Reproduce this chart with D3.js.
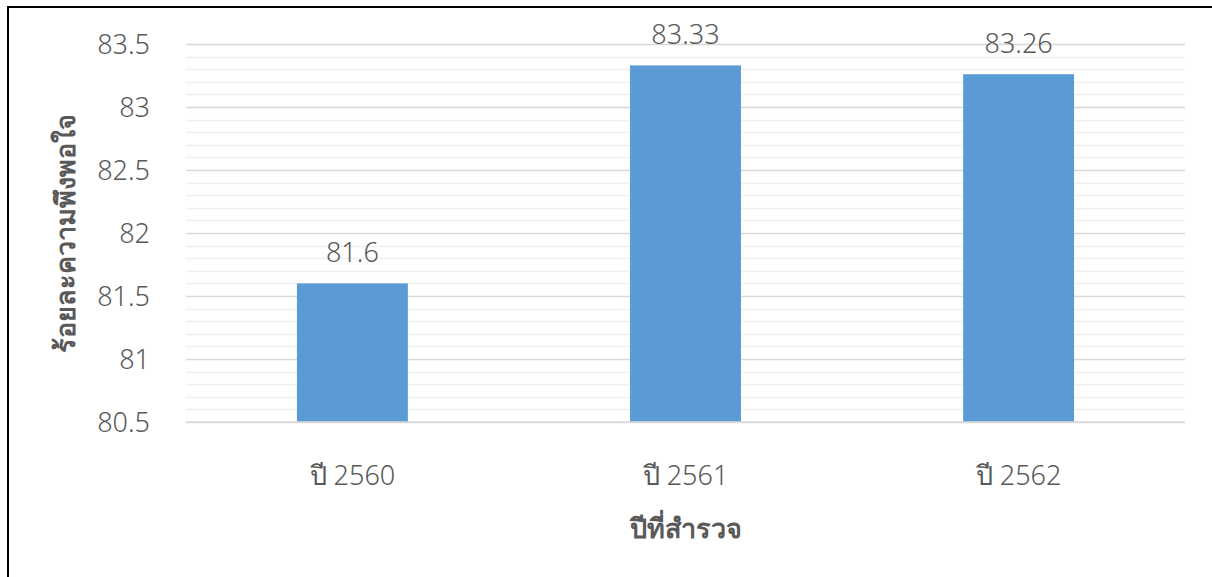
<!DOCTYPE html>
<html><head><meta charset="utf-8">
<script src="https://cdn.jsdelivr.net/npm/d3@7"></script>
<style>
html,body{margin:0;padding:0;background:#fff;}
svg{display:block;}
text{font-family:"Noto Sans","Open Sans","DejaVu Sans",sans-serif;fill:#595959;}
.lt{font-weight:300;}
</style></head>
<body>
<script>
const categories = ["ปี 2560", "ปี 2561", "ปี 2562"];
const values = [81.6, 83.33, 83.26];
const valueLabels = ["81.6", "83.33", "83.26"];
const yTicks = [80.5, 81, 81.5, 82, 82.5, 83, 83.5];
const yTickLabels = ["80.5", "81", "81.5", "82", "82.5", "83", "83.5"];
const yTitle = "ร้อยละความพึงพอใจ";
const xTitle = "ปีที่สำรวจ";

(function () {
const W = 1212, H = 577;
const svg = d3.select("body").append("svg").attr("width", W).attr("height", H);

// outer frame
svg.append("rect").attr("x", 8).attr("y", 7).attr("width", W + 10).attr("height", H + 10)
  .attr("fill", "none").attr("stroke", "#000").attr("stroke-width", 2);

const pL = 186, pR = 1185, pT = 44, pB = 422;
const x = d3.scaleBand().domain(categories).range([pL, pR]).paddingInner(0.667).paddingOuter(0.333);
const y = d3.scaleLinear().domain([80.5, 83.5]).range([pB, pT]);

// minor gridlines
const minor = d3.range(805, 836, 1).map(v => v / 10).filter(v => Math.round(v * 10) % 5 !== 0);
svg.append("g").selectAll("line").data(minor).join("line")
  .attr("x1", pL).attr("x2", pR)
  .attr("y1", d => Math.round(y(d)) + 0.5).attr("y2", d => Math.round(y(d)) + 0.5)
  .attr("stroke", "#f0f0f0").attr("stroke-width", 1.5);

// major gridlines via axis
const yAxis = d3.axisLeft(y).tickValues(yTicks).tickSize(-(pR - pL)).tickFormat((d, i) => yTickLabels[i]).tickPadding(36);
const gy = svg.append("g").attr("transform", `translate(${pL},0)`).call(yAxis);
gy.select(".domain").remove();
gy.selectAll(".tick line").attr("stroke", "#d9d9d9").attr("stroke-width", 1.5);
gy.selectAll(".tick text").attr("class", "lt").attr("font-size", 27).attr("fill", "#595959").attr("dy", "0.35em");

// bars
svg.append("g").selectAll("rect").data(values).join("rect")
  .attr("x", (d, i) => x(categories[i]))
  .attr("width", x.bandwidth())
  .attr("y", d => y(d))
  .attr("height", d => y(80.5) - y(d))
  .attr("fill", "#5b9bd5");

// baseline
svg.append("line").attr("x1", pL).attr("x2", pR).attr("y1", pB).attr("y2", pB)
  .attr("stroke", "#d9d9d9").attr("stroke-width", 1.5);

// value labels
svg.append("g").selectAll("text").data(values).join("text")
  .attr("class", "lt")
  .attr("x", (d, i) => x(categories[i]) + x.bandwidth() / 2)
  .attr("y", d => y(d) - 21)
  .attr("text-anchor", "middle").attr("font-size", 27)
  .text((d, i) => valueLabels[i]);

// x axis labels
const xAxis = d3.axisBottom(x).tickSize(0).tickPadding(0);
const gx = svg.append("g").attr("transform", `translate(0,${pB})`).call(xAxis);
gx.select(".domain").remove();
gx.selectAll(".tick text").attr("class", "lt").attr("font-size", 27).attr("fill", "#595959").attr("dy", 0).attr("y", 63);

// titles
svg.append("text").attr("x", (pL + pR) / 2).attr("y", 538).attr("text-anchor", "middle")
  .attr("font-size", 27).attr("font-weight", "bold").text(xTitle);
svg.append("text").attr("transform", `translate(75,${(pT + pB) / 2}) rotate(-90)`)
  .attr("text-anchor", "middle").attr("font-size", 27).attr("font-weight", "bold").text(yTitle);
})();
</script>
</body></html>
